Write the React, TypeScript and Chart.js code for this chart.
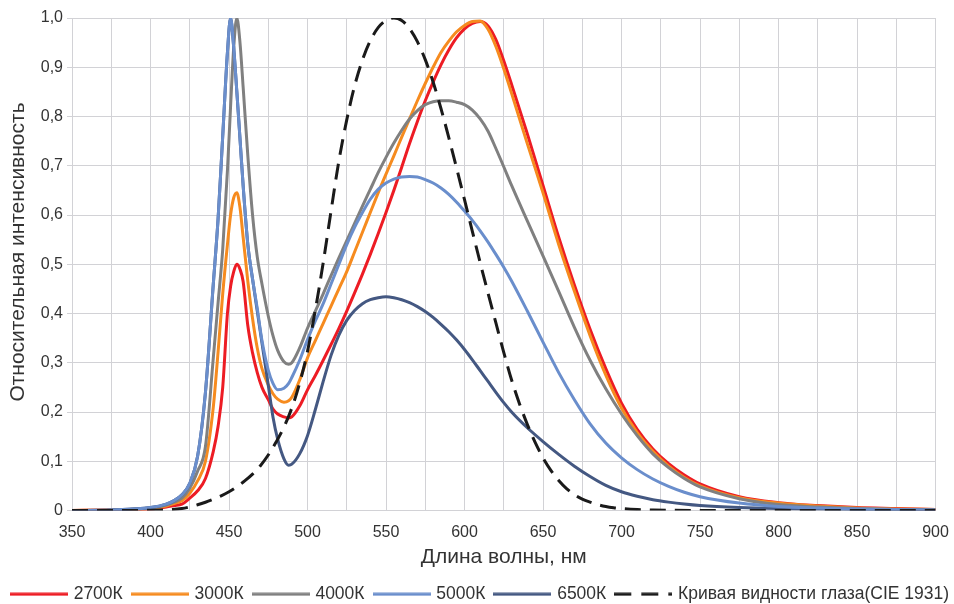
import React, { useEffect, useRef } from "react";
import { Chart, registerables } from "chart.js";

Chart.register(...registerables);

// Wavelengths (nm) at which LED spectra are sampled
const WAVELENGTHS = [
  350, 375, 400, 410, 415, 420, 425, 430, 435, 440,
  443, 446, 449, 451, 453, 455, 457, 459, 462, 465,
  468, 471, 475, 478, 481, 485, 488, 490, 495, 500,
  505, 510, 515, 520, 525, 530, 535, 540, 545, 550,
  555, 560, 565, 570, 575, 580, 585, 590, 595, 600,
  605, 610, 615, 620, 625, 630, 640, 650, 660, 670,
  680, 690, 700, 710, 720, 730, 740, 750, 775, 800,
  825, 850, 875, 900,
];

const S2700 = [
  0, 0.001, 0.003, 0.007, 0.01, 0.013, 0.025, 0.04, 0.065, 0.12,
  0.17, 0.25, 0.40, 0.455, 0.485, 0.50, 0.49, 0.465, 0.375, 0.32,
  0.28, 0.25, 0.225, 0.206, 0.196, 0.19, 0.188, 0.19, 0.212, 0.245,
  0.274, 0.305, 0.337, 0.37, 0.405, 0.442, 0.48, 0.52, 0.562, 0.605,
  0.65, 0.697, 0.745, 0.79, 0.832, 0.87, 0.905, 0.935, 0.96, 0.978,
  0.989, 0.993, 0.984, 0.956, 0.913, 0.865, 0.765, 0.66, 0.555, 0.458,
  0.368, 0.288, 0.218, 0.165, 0.125, 0.095, 0.072, 0.054, 0.028, 0.016,
  0.01, 0.006, 0.004, 0.002,
];

const S3000 = [
  0, 0.001, 0.004, 0.009, 0.014, 0.02, 0.035, 0.06, 0.10, 0.21,
  0.32, 0.44, 0.54, 0.60, 0.635, 0.645, 0.615, 0.555, 0.465, 0.39,
  0.33, 0.288, 0.255, 0.237, 0.226, 0.22, 0.223, 0.23, 0.265, 0.31,
  0.345, 0.38, 0.415, 0.45, 0.485, 0.525, 0.565, 0.605, 0.645, 0.683,
  0.72, 0.758, 0.795, 0.832, 0.867, 0.9, 0.93, 0.953, 0.972, 0.985,
  0.993, 0.994, 0.977, 0.942, 0.897, 0.847, 0.745, 0.645, 0.54, 0.445,
  0.355, 0.275, 0.208, 0.158, 0.12, 0.09, 0.067, 0.05, 0.026, 0.015,
  0.009, 0.005, 0.003, 0.002,
];

const S4000 = [
  0, 0.001, 0.005, 0.011, 0.017, 0.025, 0.045, 0.08, 0.13, 0.31,
  0.42, 0.53, 0.69, 0.82, 0.94, 1.0, 0.95, 0.86, 0.72, 0.60,
  0.515, 0.46, 0.395, 0.355, 0.325, 0.302, 0.297, 0.3, 0.33, 0.37,
  0.405, 0.44, 0.477, 0.513, 0.548, 0.583, 0.618, 0.652, 0.686, 0.717,
  0.746, 0.772, 0.795, 0.812, 0.824, 0.83, 0.832, 0.832, 0.829, 0.824,
  0.813, 0.795, 0.77, 0.735, 0.698, 0.66, 0.588, 0.517, 0.445, 0.372,
  0.305, 0.247, 0.196, 0.152, 0.115, 0.087, 0.065, 0.048, 0.024, 0.012,
  0.007, 0.004, 0.002, 0.001,
];

const S5000 = [
  0, 0.001, 0.006, 0.013, 0.02, 0.032, 0.055, 0.11, 0.24, 0.46,
  0.59, 0.76, 0.93, 1.0, 0.94, 0.85, 0.755, 0.66, 0.54, 0.47,
  0.41, 0.345, 0.285, 0.258, 0.245, 0.248, 0.258, 0.27, 0.305, 0.347,
  0.385, 0.42, 0.46, 0.50, 0.54, 0.575, 0.605, 0.632, 0.652, 0.665,
  0.673, 0.677, 0.678, 0.677, 0.672, 0.665, 0.655, 0.642, 0.626, 0.608,
  0.589, 0.568, 0.545, 0.52, 0.494, 0.466, 0.405, 0.342, 0.28, 0.225,
  0.176, 0.137, 0.107, 0.083, 0.064, 0.049, 0.037, 0.028, 0.015, 0.008,
  0.005, 0.003, 0.002, 0.001,
];

const S6500 = [
  0, 0.001, 0.006, 0.013, 0.02, 0.032, 0.055, 0.11, 0.24, 0.46,
  0.59, 0.76, 0.93, 1.0, 0.94, 0.85, 0.755, 0.66, 0.54, 0.47,
  0.405, 0.34, 0.255, 0.19, 0.145, 0.105, 0.092, 0.094, 0.115, 0.152,
  0.205, 0.262, 0.315, 0.356, 0.386, 0.406, 0.42, 0.428, 0.432, 0.434,
  0.432, 0.428, 0.422, 0.414, 0.404, 0.392, 0.378, 0.363, 0.346, 0.327,
  0.306, 0.284, 0.262, 0.24, 0.219, 0.2, 0.168, 0.14, 0.114, 0.09,
  0.069, 0.051, 0.038, 0.029, 0.022, 0.017, 0.013, 0.01, 0.006, 0.004,
  0.003, 0.002, 0.001, 0.001,
];

// CIE 1931 photopic luminosity curve
const CIE_WAVELENGTHS = [
  350, 375, 380, 390, 400, 410, 420, 425, 430, 435,
  440, 445, 450, 455, 460, 465, 470, 475, 480, 485,
  490, 495, 500, 505, 510, 515, 520, 525, 530, 535,
  540, 545, 550, 555, 560, 565, 570, 575, 580, 585,
  590, 595, 600, 605, 610, 615, 620, 625, 630, 635,
  640, 645, 650, 655, 660, 665, 670, 675, 680, 685,
  690, 695, 700, 710, 720, 730, 750, 800, 850, 900,
];
const CIE_VALUES = [
  0, 0.00002, 0.00004, 0.00012, 0.0004, 0.0012, 0.004, 0.0073, 0.0116, 0.0168,
  0.023, 0.0298, 0.038, 0.048, 0.06, 0.0739, 0.091, 0.1126, 0.139, 0.1693,
  0.208, 0.2586, 0.323, 0.4073, 0.503, 0.6082, 0.71, 0.7932, 0.862, 0.9149,
  0.954, 0.9803, 0.995, 1.0, 0.995, 0.9786, 0.952, 0.9154, 0.87, 0.8163,
  0.757, 0.6949, 0.631, 0.5668, 0.503, 0.4412, 0.381, 0.321, 0.265, 0.217,
  0.175, 0.1382, 0.107, 0.0816, 0.061, 0.0446, 0.032, 0.0232, 0.017, 0.0119,
  0.0082, 0.0057, 0.0041, 0.0021, 0.001, 0.0005, 0.0001, 0, 0, 0,
];

const SERIES_LABELS = ["2700К", "3000К", "4000К", "5000К", "6500К", "Кривая видности глаза(CIE 1931)"];
const SERIES_COLORS = ["#ED1C24", "#F68B1F", "#808080", "#6A8ECC", "#445882", "#1a1a1a"];
const X_TICK_LABELS = [350, 400, 450, 500, 550, 600, 650, 700, 750, 800, 850, 900];
const Y_TICK_LABELS = ["0", "0,1", "0,2", "0,3", "0,4", "0,5", "0,6", "0,7", "0,8", "0,9", "1,0"];
const X_TITLE = "Длина волны, нм";
const Y_TITLE = "Относительная интенсивность";

const FONT = "'Liberation Sans', Arial, sans-serif";
const GRID = "#d2d2d6";
const TEXT = "#333333";

function pts(xs: number[], ys: number[]) {
  return xs.map((x, i) => ({ x, y: ys[i] }));
}

function legendLine(color: string, dashed: boolean) {
  const c = document.createElement("canvas");
  c.width = 58;
  c.height = 4;
  const g = c.getContext("2d")!;
  g.strokeStyle = color;
  g.lineWidth = 3;
  g.lineCap = "butt";
  if (dashed) g.setLineDash([17, 10]);
  g.beginPath();
  g.moveTo(0, 2);
  g.lineTo(58, 2);
  g.stroke();
  return c;
}

const yTitlePlugin = {
  id: "yTitle",
  afterDraw(chart: any) {
    const ctx = chart.ctx;
    ctx.save();
    ctx.translate(18, 252);
    ctx.rotate(-Math.PI / 2);
    ctx.fillStyle = TEXT;
    ctx.font = `21px ${FONT}`;
    ctx.textAlign = "center";
    ctx.textBaseline = "middle";
    ctx.fillText(Y_TITLE, 0, 0);
    ctx.restore();
  },
};

export default function App() {
  const ref = useRef<HTMLCanvasElement | null>(null);

  useEffect(() => {
    if (!ref.current) return;
    const series = [S2700, S3000, S4000, S5000, S6500];
    const orders = [6, 5, 4, 2, 3];
    const datasets: any[] = series.map((s, i) => ({
      label: SERIES_LABELS[i],
      data: pts(WAVELENGTHS, s),
      borderColor: SERIES_COLORS[i],
      backgroundColor: SERIES_COLORS[i],
      borderWidth: 3,
      pointRadius: 0,
      pointHoverRadius: 0,
      fill: false,
      cubicInterpolationMode: "monotone",
      pointStyle: legendLine(SERIES_COLORS[i], false),
      order: orders[i],
    }));
    datasets.push({
      label: SERIES_LABELS[5],
      data: pts(CIE_WAVELENGTHS, CIE_VALUES),
      borderColor: SERIES_COLORS[5],
      backgroundColor: SERIES_COLORS[5],
      borderWidth: 3,
      borderDash: [16, 9],
      borderCapStyle: "butt",
      pointRadius: 0,
      pointHoverRadius: 0,
      fill: false,
      cubicInterpolationMode: "monotone",
      pointStyle: legendLine(SERIES_COLORS[5], true),
      order: 1,
    });

    const chart = new Chart(ref.current, {
      type: "line",
      data: { datasets },
      plugins: [yTitlePlugin],
      options: {
        animation: false,
        responsive: false,
        maintainAspectRatio: false,
        layout: { padding: { left: 0, right: 0, top: 18, bottom: 2 } },
        plugins: {
          tooltip: { enabled: false },
          legend: {
            position: "bottom",
            labels: {
              usePointStyle: true,
              pointStyleWidth: 52,
              padding: 11,
              color: TEXT,
              font: { family: FONT, size: 17.5 },
              sort: (a: any, b: any) => a.datasetIndex - b.datasetIndex,
            },
          },
        },
        scales: {
          x: {
            type: "linear",
            min: 350,
            max: 900,
            afterFit: (s: any) => {
              s.height = 64;
              s.paddingRight = 26.5;
              s.paddingLeft = 0;
            },
            ticks: {
              stepSize: 25,
              autoSkip: false,
              maxRotation: 0,
              padding: 12,
              color: TEXT,
              font: { family: FONT, size: 16 },
              callback: (v: any) => (X_TICK_LABELS.includes(Number(v)) ? String(v) : ""),
            },
            grid: { color: GRID, lineWidth: 1, drawTicks: false },
            border: { color: GRID },
            title: {
              display: true,
              text: X_TITLE,
              color: TEXT,
              font: { family: FONT, size: 21 },
              padding: { top: 0, bottom: 5 },
            },
          },
          y: {
            min: 0,
            max: 1,
            afterFit: (s: any) => { s.width = 72; },
            ticks: {
              stepSize: 0.1,
              padding: 4,
              color: TEXT,
              font: { family: FONT, size: 16 },
              callback: (v: any) => Y_TICK_LABELS[Math.round(Number(v) * 10)],
            },
            grid: { color: GRID, lineWidth: 1, tickLength: 5 },
            border: { color: GRID },
          },
        },
      },
    });
    return () => chart.destroy();
  }, []);

  return (
    <div style={{ position: "fixed", left: 0, top: 0, width: 954, height: 604, overflow: "hidden", background: "#fff" }}>
      <canvas ref={ref} width={962} height={615} style={{ display: "block", width: 962, height: 615 }} />
    </div>
  );
}
